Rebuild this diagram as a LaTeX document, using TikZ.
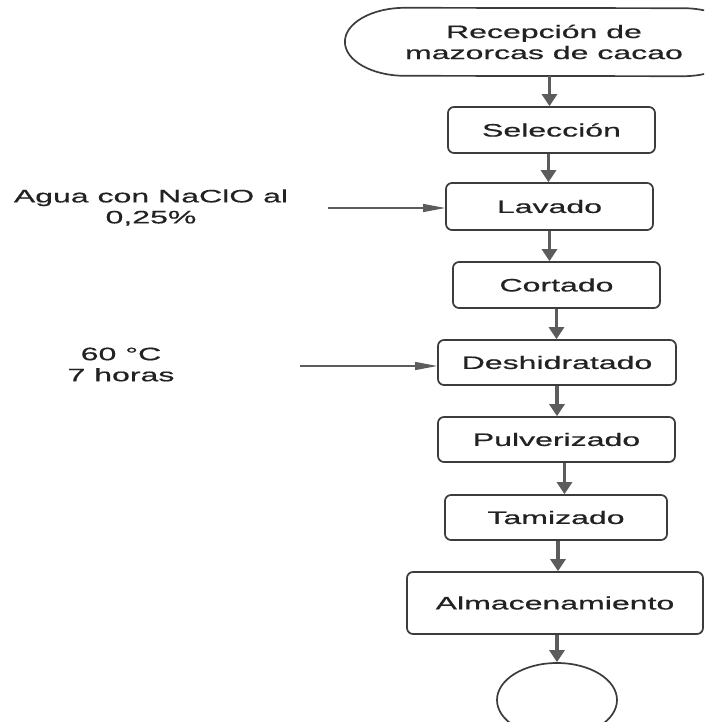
\documentclass[tikz,border=0pt]{standalone}
\usepackage{fontspec}
\setmainfont[FakeStretch=1.78,FakeBold=0.6]{Liberation Sans}
\usetikzlibrary{arrows.meta,shapes.geometric}
\definecolor{boxc}{HTML}{3C3C3C}
\definecolor{linec}{HTML}{5C5C5C}
\definecolor{txtc}{HTML}{222222}
\newcommand{\diagfont}{\fontsize{18}{21}\selectfont}
\tikzset{
  proc/.style={draw=boxc, line width=1.7pt, rounded corners=6pt, fill=white,
    inner sep=0pt, align=center, font=\diagfont, text=txtc},
  plain/.style={inner sep=0pt, align=center, font=\diagfont, text=txtc},
  flow/.style={draw=linec, line width=3.2pt, -{Triangle[length=12pt,width=15pt]}, color=linec},
  side/.style={draw=linec, line width=1.2pt, -{Triangle[length=22pt,width=8pt]}, color=linec},
}
\begin{document}
\begin{tikzpicture}[x=1pt,y=1pt]
\useasboundingbox (0,0) rectangle (704,-722);
\clip (0,0) rectangle (704,-722);
% start terminator
\node[plain, minimum width=198pt, minimum height=68pt] (start) at (544,-42) {Recepción de\\mazorcas de cacao};
\draw[draw=boxc, line width=1.7pt] (start.north west)
  arc[start angle=90, end angle=270, x radius=60pt, y radius=34pt]
  -- (start.south east)
  arc[start angle=-90, end angle=90, x radius=60pt, y radius=34pt]
  -- cycle;
% process boxes
\node[proc, minimum width=207pt, minimum height=46pt] (sel) at (551.5,-130) {Selección};
\node[proc, minimum width=207pt, minimum height=47pt] (lav) at (549.5,-206.5) {Lavado};
\node[proc, minimum width=207pt, minimum height=46pt] (cor) at (556.5,-285) {Cortado};
\node[proc, minimum width=238pt, minimum height=45pt] (des) at (557,-362.5) {Deshidratado};
\node[proc, minimum width=237pt, minimum height=45pt] (pul) at (556.5,-439.5) {Pulverizado};
\node[proc, minimum width=222pt, minimum height=45pt] (tam) at (556,-517.5) {Tamizado};
\node[proc, minimum width=296pt, minimum height=62pt] (alm) at (555,-603) {Almacenamiento};
\node[draw=boxc, line width=1.7pt, ellipse, fill=white, inner sep=0pt,
  minimum width=120pt, minimum height=74pt] (endn) at (557,-700) {};
% side texts
\node[plain] (t1) at (151,-207.5) {Agua con NaClO al\\0,25\%};
\node[plain] (t2) at (121,-364.5) {60 °C\\7 horas};
\coordinate (s1) at (328,-208);
\coordinate (s2) at (300,-366);
% flow arrows
\draw[flow] ([xshift=-2pt]sel.north |- start.south) -- ([xshift=-2pt]sel.north);
\draw[flow] ([xshift=-3pt]sel.south) -- ([xshift=-3pt]sel.south |- lav.north);
\draw[flow] (lav.south) -- (lav.south |- cor.north);
\draw[flow] (cor.south) -- (cor.south |- des.north);
\draw[flow] (des.south) -- (des.south |- pul.north);
\draw[flow] ([xshift=8pt]pul.south) -- ([xshift=8pt]pul.south |- tam.north);
\draw[flow] ([xshift=2pt]tam.south) -- ([xshift=2pt]tam.south |- alm.north);
\draw[flow] (endn.north |- alm.south) -- (endn.north);
% side arrows
\draw[side] (s1) -- (s1 -| lav.west);
\draw[side] (s2) -- (s2 -| des.west);
\end{tikzpicture}
\end{document}
